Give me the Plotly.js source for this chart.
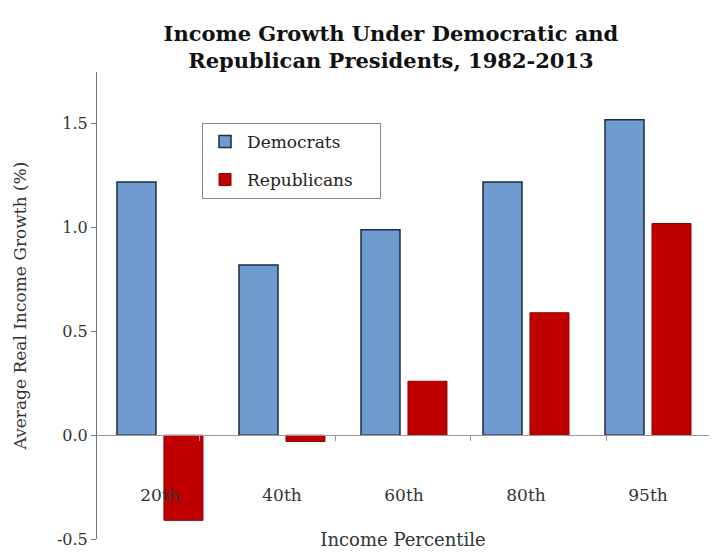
<!DOCTYPE html>
<html>
<head>
<meta charset="utf-8">
<script src="https://cdn.plot.ly/plotly-3.0.1.min.js"></script>
<style>html,body{margin:0;padding:0;background:#fff;}#chart{width:720px;height:556px;}</style>
</head>
<body>
<div id="chart"></div>
<script>
const categories = ["20th", "40th", "60th", "80th", "95th"];
const seriesNames = ["Democrats", "Republicans"];
const democrats = [1.22, 0.82, 0.99, 1.22, 1.52];
const republicans = [-0.41, -0.03, 0.26, 0.59, 1.02];
const yTickVals = [-0.5, 0.0, 0.5, 1.0, 1.5];
const yTickText = ["-0.5", "0.0", "0.5", "1.0", "1.5"];

const serif = "'DejaVu Serif', 'Liberation Serif', serif";
const pad = "\u00a0\u00a0\u00a0\u00a0";

const traces = [
  {
    type: "bar", name: seriesNames[0] + pad, x: categories, y: democrats,
    marker: {color: "#6f9bd1", line: {color: "#1c2b48", width: 1.5}},
    legendgroup: "d"
  },
  {
    type: "bar", name: seriesNames[1] + pad, x: categories, y: republicans,
    marker: {color: "#c00000", line: {color: "#8a0000", width: 1}},
    legendgroup: "r"
  },
  {
    type: "scatter", x: categories, y: categories.map(() => null), xaxis: "x2",
    showlegend: false, hoverinfo: "skip"
  }
];

const layout = {
  width: 720, height: 556,
  paper_bgcolor: "#fff", plot_bgcolor: "#fff",
  margin: {l: 97, r: 11, t: 72, b: 17},
  font: {family: serif, color: "#333", size: 15},
  title: {
    text: "<b>Income Growth Under Democratic and<br>Republican Presidents, 1982-2013</b>",
    font: {family: serif, size: 21, color: "#111"},
    xref: "container", x: 0.543, xanchor: "center",
    yref: "container", y: 0.926, yanchor: "top"
  },
  barmode: "group", bargap: 0.23, bargroupgap: 0.17,
  xaxis: {
    type: "category", anchor: "free", position: 0.12,
    range: [-0.516, 4.5],
    showline: false, ticks: "", showgrid: false, zeroline: false,
    tickfont: {family: serif, size: 17, color: "#333"},
    title: {text: "Income Percentile", font: {family: serif, size: 18, color: "#333"}, standoff: 29}
  },
  xaxis2: {
    type: "category", overlaying: "x", matching: "x", anchor: "free", position: 0.2222,
    showline: true, linecolor: "#999", linewidth: 1,
    ticks: "outside", tickson: "boundaries", ticklen: 5, tickcolor: "#999",
    showticklabels: false, showgrid: false, zeroline: false
  },
  yaxis: {
    range: [-0.5, 1.75], tickvals: yTickVals, ticktext: yTickText,
    showline: true, linecolor: "#777", linewidth: 1,
    ticks: "outside", ticklen: 5, tickcolor: "#777",
    showgrid: false, zeroline: false,
    tickfont: {family: serif, size: 16, color: "#333"},
    title: {text: "Average Real Income Growth (%)", font: {family: serif, size: 17, color: "#333"}, standoff: 25}
  },
  legend: {
    x: 0.1716, y: 0.891, xanchor: "left", yanchor: "top",
    bordercolor: "#888", borderwidth: 1, bgcolor: "#fff",
    font: {family: serif, size: 17, color: "#222"},
    tracegroupgap: 13, itemwidth: 34
  },
  showlegend: true
};

Plotly.newPlot("chart", traces, layout, {displayModeBar: false, staticPlot: true});
</script>
</body>
</html>
